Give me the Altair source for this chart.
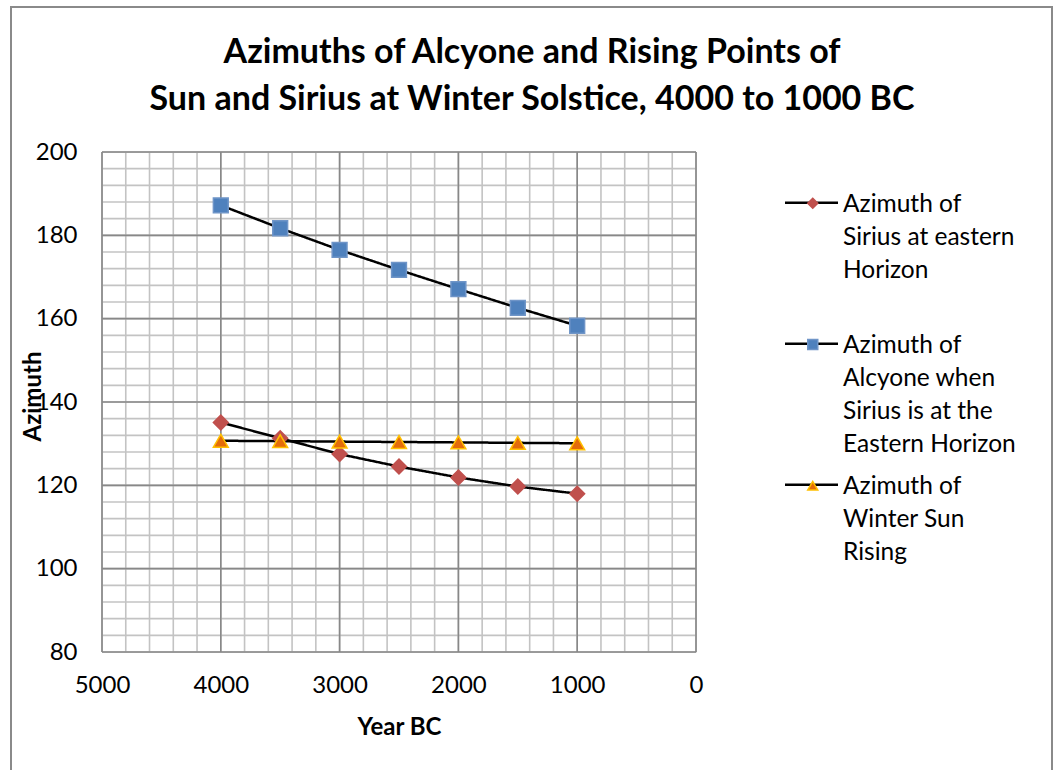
import altair as alt
import pandas as pd

# ---------------- data ----------------
YEARS = [4000, 3500, 3000, 2500, 2000, 1500, 1000]
SIRIUS = [135.1, 131.3, 127.5, 124.5, 121.9, 119.7, 118.0]
ALCYONE = [187.2, 181.7, 176.5, 171.7, 167.1, 162.6, 158.3]
SUN = [130.7, 130.6, 130.5, 130.4, 130.3, 130.2, 130.1]

SERIES = [
    "Azimuth of Sirius at eastern Horizon",
    "Azimuth of Alcyone when Sirius is at the Eastern Horizon",
    "Azimuth of Winter Sun Rising",
]
KEYS = ["sirius", "alcyone", "sun"]
LEGEND_LINES = [
    ["Azimuth of", "Sirius at eastern", "Horizon"],
    ["Azimuth of", "Alcyone when", "Sirius is at the", "Eastern Horizon"],
    ["Azimuth of", "Winter Sun", "Rising"],
]
FILLS = ["#C0504D", "#4F81BD", "#E46C0A"]
STROKES = ["#C0504D", "#6F95C8", "#FFC000"]
SHAPES = ["diamond", "square", "triangle-up"]

X_TICKS = [0, 1000, 2000, 3000, 4000, 5000]
Y_TICKS = [80, 100, 120, 140, 160, 180, 200]
X_MINOR = list(range(0, 5001, 200))
Y_MINOR = list(range(80, 201, 4))

TITLE = ["Azimuths of Alcyone and Rising Points of",
         "Sun and Sirius at Winter Solstice, 4000 to 1000 BC"]

FONT = "Lato"

rows = []
for name, key, vals in zip(SERIES, KEYS, [SIRIUS, ALCYONE, SUN]):
    for yr, v in zip(YEARS, vals):
        rows.append({"year": yr, "azimuth": v, "series": name, "key": key})
df = pd.DataFrame(rows)

# legend label expression: every label padded to the same number of lines
NB = "\u00a0"
n_lines = max(len(l) for l in LEGEND_LINES)
parts = []
for name, key, lines in zip(SERIES, KEYS, LEGEND_LINES):
    arr = lines + [NB] * (n_lines - len(lines))
    js = "[" + ",".join("'" + s + "'" for s in arr) + "]"
    parts.append((name, key, js))
expr = ""
for name, key, js in parts[:-1]:
    expr += f"(datum.value == '{name}' || datum.value == '{key}') ? {js} : "
expr += parts[-1][2]

XS = alt.Scale(domain=[0, 5000], reverse=True, nice=False, zero=False)
YS = alt.Scale(domain=[80, 200], nice=False, zero=False)

LAB_SIZE = 24
LEG_SIZE = 24.5

x_axis = alt.Axis(values=X_TICKS, format="d", grid=False, ticks=False, tickSize=0,
                  domain=False, labelFont=FONT, labelFontSize=LAB_SIZE, labelColor="black",
                  labelPadding=33, labelBaseline="middle", labelFlush=False,
                  title="Year BC", titleFont=FONT, titleFontSize=24, titleFontWeight="bold",
                  titleColor="black", titleBaseline="middle", titleY=75)
y_axis = alt.Axis(values=Y_TICKS, grid=False, ticks=False, tickSize=0, domain=False,
                  labelFont=FONT, labelFontSize=LAB_SIZE, labelColor="black",
                  labelPadding=25, labelAlign="right", labelBaseline="middle", labelFlush=False,
                  title="Azimuth", titleFont=FONT, titleFontSize=24, titleFontWeight="bold",
                  titleColor="black", titleBaseline="middle", titleX=-69, titleY=244)

minor_v = alt.Chart(pd.DataFrame({"v": X_MINOR})).mark_rule(color="#c3c3c3", strokeWidth=1.6).encode(
    x=alt.X("v:Q", scale=XS, axis=x_axis))
minor_h = alt.Chart(pd.DataFrame({"v": Y_MINOR})).mark_rule(color="#c3c3c3", strokeWidth=1.6).encode(
    y=alt.Y("v:Q", scale=YS, axis=y_axis))
major_v = alt.Chart(pd.DataFrame({"v": X_TICKS})).mark_rule(color="#888888", strokeWidth=1.6).encode(
    x=alt.X("v:Q", scale=XS, axis=x_axis))
major_h = alt.Chart(pd.DataFrame({"v": Y_TICKS})).mark_rule(color="#888888", strokeWidth=1.6).encode(
    y=alt.Y("v:Q", scale=YS, axis=y_axis))

# legend carrying the black line symbols and the visible labels
line_legend = alt.Legend(
    orient="none", legendX=695, legendY=26.5, title=None, padding=0,
    symbolType="M-2,0.74H2", symbolSize=702, symbolStrokeColor="black", symbolStrokeWidth=2.5,
    labelExpr=expr, labelFont=FONT, labelFontSize=LEG_SIZE, labelColor="black",
    labelBaseline="top", labelLimit=500, rowPadding=4, labelOffset=17)

lines = alt.Chart(df).mark_line(color="black", strokeWidth=2.5).encode(
    x=alt.X("year:Q", scale=XS, axis=x_axis),
    y=alt.Y("azimuth:Q", scale=YS, axis=y_axis),
    strokeDash=alt.StrokeDash("key:N", scale=alt.Scale(domain=KEYS, range=[[1, 0]] * 3),
                              legend=line_legend),
)

# legend carrying the coloured markers (labels invisible, same layout)
pt_legend = alt.Legend(
    orient="none", legendX=698.5, legendY=39, title=None, padding=0,
    labelExpr=expr, labelFont=FONT, labelFontSize=LEG_SIZE, labelOpacity=0,
    labelBaseline="top", labelLimit=500, rowPadding=6.25, labelOffset=20, symbolOpacity=1)

points = alt.Chart(df).mark_point(filled=True, size=220, strokeWidth=1.5, opacity=1).encode(
    x=alt.X("year:Q", scale=XS, axis=x_axis),
    y=alt.Y("azimuth:Q", scale=YS, axis=y_axis),
    fill=alt.Fill("series:N", scale=alt.Scale(domain=SERIES, range=FILLS), legend=pt_legend),
    shape=alt.Shape("series:N", scale=alt.Scale(domain=SERIES, range=SHAPES), legend=pt_legend),
    stroke=alt.Stroke("series:N", scale=alt.Scale(domain=SERIES, range=STROKES), legend=pt_legend),
)

frame = alt.Chart(pd.DataFrame({"a": [0]})).mark_rect(
    fillOpacity=0, stroke="#8a8a8a", strokeWidth=2).encode(
    x=alt.value(-91), x2=alt.value(950), y=alt.value(-145), y2=alt.value(720))

chart = alt.layer(minor_v, minor_h, major_v, major_h, lines, points, frame).properties(
    width=594, height=500,
    autosize=alt.AutoSizeParams(type="none"),
    padding={"left": 102, "top": 152, "right": 359, "bottom": 118},
    title=alt.TitleParams(text=TITLE, font=FONT, fontSize=34, fontWeight="bold", color="black",
                          anchor="middle", frame="group", dx=133, offset=-145, lineHeight=47,
                          baseline="bottom"),
).configure_view(strokeWidth=0).configure(
    background="white",
    style={"guide-label": {"lineHeight": 33}},
)

chart.save("out.html", embed_options={"renderer": "svg", "actions": False})
